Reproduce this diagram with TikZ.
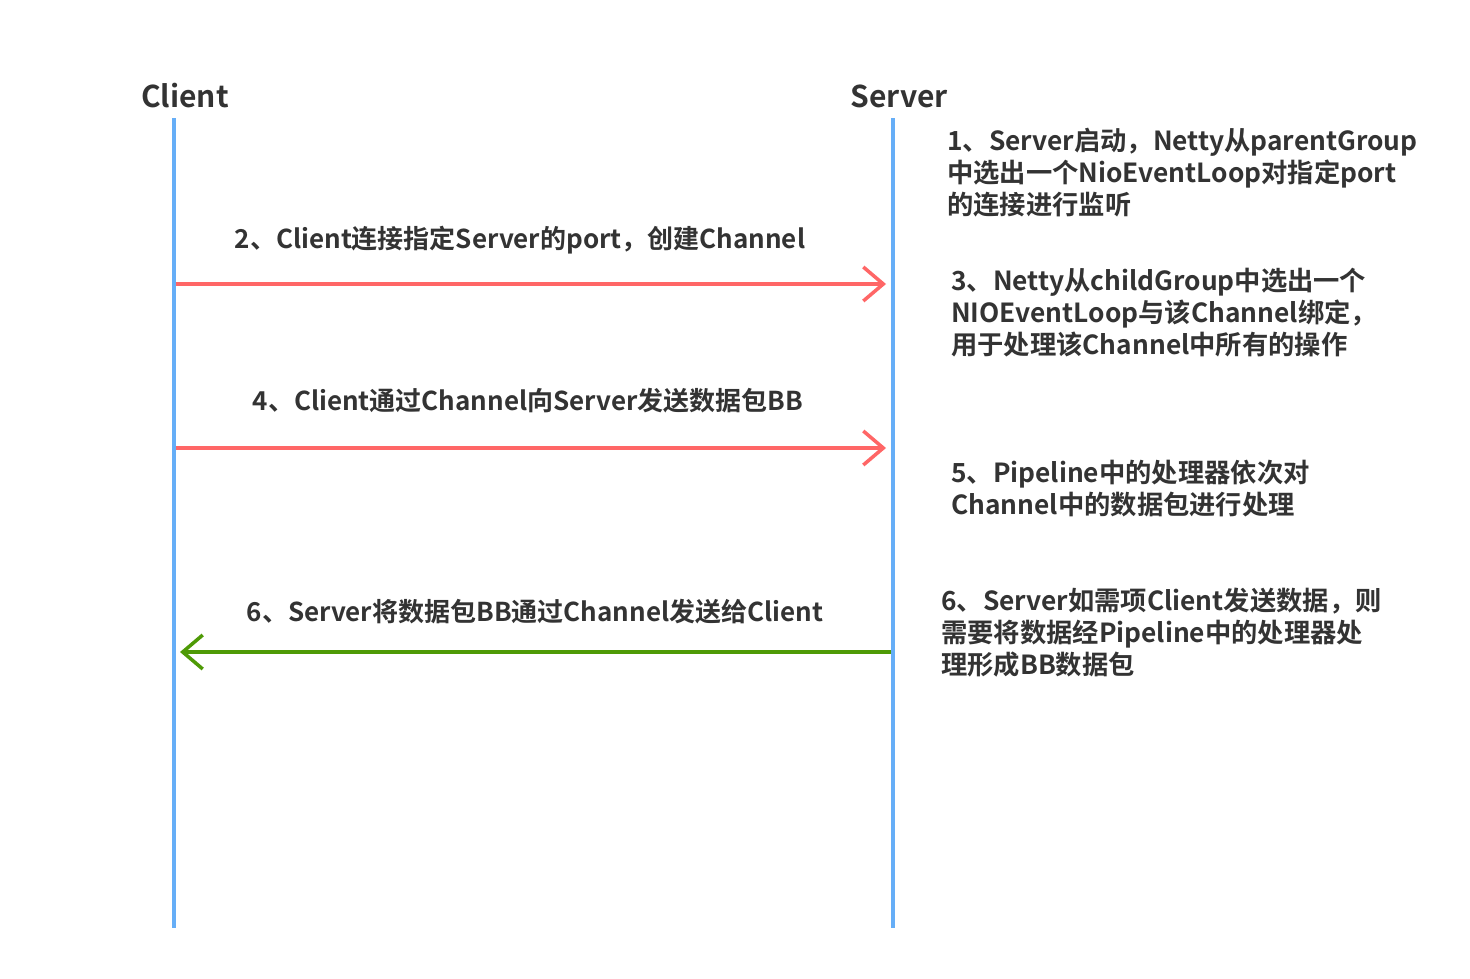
\documentclass[tikz,border=0pt]{standalone}
\usepackage{fontspec}
\setmainfont{Noto Sans CJK SC}[BoldFont={Noto Sans CJK SC Bold}]
\usetikzlibrary{arrows.meta}
\definecolor{lifeblue}{HTML}{66AEF7}
\definecolor{msgred}{HTML}{FF6666}
\definecolor{msggreen}{HTML}{4E9A06}
\definecolor{txt}{HTML}{333333}
\tikzset{
  actor/.style={font=\bfseries\fontsize{30}{36}\selectfont, text=txt, inner sep=0pt},
  lifeline/.style={lifeblue, line width=3.5pt},
  msg/.style={line width=3.5pt, -{Straight Barb[length=20pt,width=34pt,line width=3.5pt]}},
  msglabel/.style={font=\bfseries\fontsize{26}{32}\selectfont, text=txt, inner sep=0pt},
  note/.style={font=\bfseries\fontsize{26.3}{32}\selectfont, text=txt, inner sep=0pt, align=left, anchor=west}
}
\begin{document}
\begin{tikzpicture}[x=1pt,y=-1pt]
\useasboundingbox[fill=white] (0,0) rectangle (1470,978);
% actors
\node[actor] (client) at (185,96) {Client};
\node[actor] (server) at (899,96) {Server};
% lifelines
\coordinate (ctop) at (174,118);
\coordinate (cbot) at (174,928);
\coordinate (stop) at (893,118);
\coordinate (sbot) at (893,928);
\draw[lifeline] (ctop) -- (cbot);
\draw[lifeline] (stop) -- (sbot);
% message anchors
\coordinate (c1) at (176,284); \coordinate (s1) at (886,284);
\coordinate (c2) at (176,448); \coordinate (s2) at (886,448);
\coordinate (s3) at (891,652); \coordinate (c3) at (180,652);
\draw[msg, msgred] (c1) -- (s1);
\draw[msg, msgred] (c2) -- (s2);
\draw[msg, msggreen] (s3) -- (c3);
% message labels
\node[msglabel] (m1) at (520,240) {2、Client连接指定Server的port，创建Channel};
\node[msglabel] (m2) at (528,401) {4、Client通过Channel向Server发送数据包BB};
\node[msglabel] (m3) at (535,612) {6、Server将数据包BB通过Channel发送给Client};
% notes
\node[note] (n1) at (947,173) {1、Server启动，Netty从parentGroup\\中选出一个NioEventLoop对指定port\\的连接进行监听};
\node[note] (n3) at (951,313) {3、Netty从childGroup中选出一个\\NIOEventLoop与该Channel绑定，\\用于处理该Channel中所有的操作};
\node[note] (n5) at (951,489) {5、Pipeline中的处理器依次对\\Channel中的数据包进行处理};
\node[note] (n6) at (941,633) {6、Server如需项Client发送数据，则\\需要将数据经Pipeline中的处理器处\\理形成BB数据包};
\end{tikzpicture}
\end{document}
